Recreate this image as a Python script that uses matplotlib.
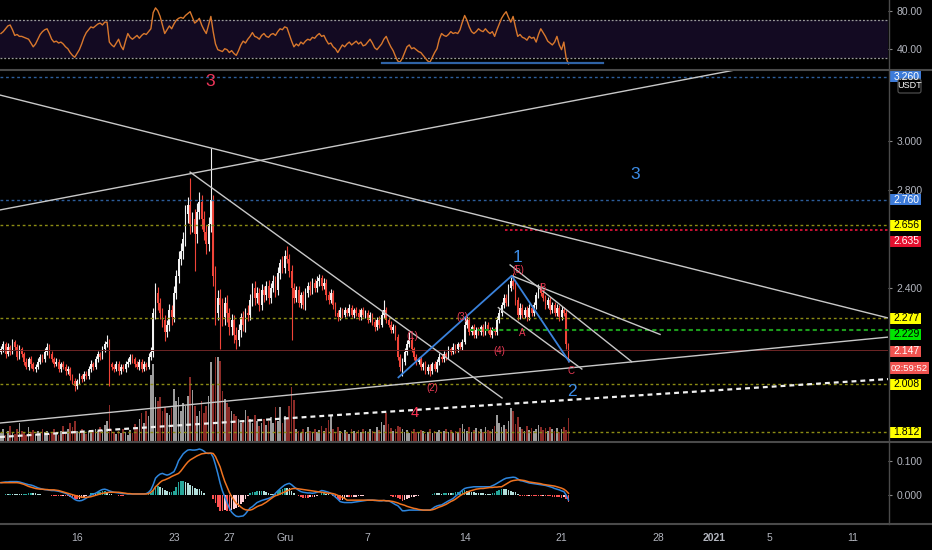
import numpy as np
import pandas as pd
import matplotlib
matplotlib.use('Agg')
import matplotlib.pyplot as plt
from matplotlib.lines import Line2D
from matplotlib.patches import Rectangle, FancyBboxPatch
from matplotlib.transforms import IdentityTransform

plt.rcParams['font.family'] = ['Liberation Sans', 'DejaVu Sans']

# 4h candles, prices in 1/1000 USDT (open = previous close)
first_open = 2140
closes = [2150, 2170, 2130, 2160, 2140, 2180, 2160, 2120, 2150, 2130,
          2100, 2080, 2110, 2090, 2070, 2080, 2100, 2120, 2110, 2140,
          2160, 2130, 2110, 2090, 2100, 2070, 2090, 2080, 2060, 2070,
          2040, 2020, 2000, 2020, 2040, 2030, 2050, 2040, 2070, 2090,
          2080, 2110, 2130, 2120, 2150, 2170, 2180, 2090, 2080, 2070,
          2090, 2060, 2080, 2070, 2090, 2100, 2120, 2110, 2090, 2080,
          2100, 2070, 2090, 2080, 2120, 2140, 2300, 2380, 2340, 2300,
          2270, 2220, 2250, 2310, 2280, 2380, 2450, 2520, 2550, 2600,
          2700, 2740, 2660, 2680, 2620, 2710, 2750, 2680, 2630, 2580,
          2660, 2760, 2450, 2300, 2360, 2330, 2280, 2340, 2300, 2240,
          2270, 2210, 2190, 2230, 2280, 2250, 2300, 2290, 2350, 2400,
          2360, 2380, 2330, 2390, 2370, 2410, 2360, 2400, 2430, 2390,
          2460, 2500, 2480, 2530, 2520, 2470, 2400, 2360, 2390, 2340,
          2370, 2330, 2380, 2410, 2390, 2420, 2400, 2430, 2440, 2410,
          2420, 2370, 2350, 2380, 2330, 2300, 2280, 2310, 2290, 2310,
          2300, 2320, 2290, 2310, 2300, 2280, 2310, 2290, 2300, 2270,
          2290, 2260, 2240, 2270, 2250, 2290, 2310, 2270, 2250, 2230,
          2240, 2200, 2120, 2080, 2100, 2140, 2170, 2190, 2150, 2120,
          2100, 2110, 2080, 2090, 2060, 2080, 2060, 2090, 2070, 2100,
          2120, 2110, 2130, 2120, 2150, 2140, 2160, 2150, 2170, 2160,
          2180, 2250, 2270, 2220, 2240, 2210, 2230, 2220, 2240, 2220,
          2250, 2230, 2210, 2230, 2220, 2270, 2300, 2330, 2360, 2340,
          2400, 2430, 2410, 2350, 2290, 2320, 2290, 2310, 2280, 2320,
          2300, 2330, 2370, 2400, 2380, 2360, 2330, 2350, 2310, 2330,
          2300, 2320, 2280, 2310, 2300, 2170, 2147]
upper_wick = [12, 15, 10, 18, 8, 14, 10, 12, 16, 9, 11, 14, 8, 13, 10, 9, 15, 12, 10, 14,
              18, 10, 12, 9, 14, 11, 8, 13, 10, 12, 9, 11, 14, 10, 12, 8, 13, 10, 12, 15,
              10, 14, 12, 9, 15, 13, 30, 12, 10, 9, 14, 12, 10, 11, 13, 15, 12, 10, 9, 14,
              11, 10, 12, 9, 15, 18, 20, 40, 25, 20, 18, 22, 20, 25, 20, 30, 25, 30, 35, 30,
              40, 30, 110, 30, 40, 35, 40, 30, 35, 25, 30, 210, 20, 40, 30, 35, 30, 25, 30, 20,
              25, 20, 30, 25, 20, 25, 20, 30, 25, 20, 30, 25, 20, 25, 20, 18, 22, 20, 25, 20,
              25, 20, 30, 25, 40, 20, 25, 20, 18, 20, 15, 18, 20, 15, 18, 20, 15, 20, 18, 15,
              20, 15, 18, 15, 12, 15, 12, 14, 10, 12, 10, 14, 12, 10, 12, 14, 10, 12, 10, 12,
              14, 10, 12, 10, 14, 20, 40, 12, 10, 14, 12, 10, 12, 10, 14, 15, 20, 30, 12, 10,
              12, 10, 14, 10, 12, 10, 12, 10, 12, 10, 14, 10, 12, 10, 12, 10, 14, 10, 12, 10,
              12, 30, 15, 12, 10, 14, 10, 12, 10, 12, 14, 10, 12, 10, 12, 15, 14, 12, 15, 14,
              18, 15, 30, 15, 12, 18, 14, 12, 15, 14, 12, 15, 12, 18, 20, 15, 12, 14, 12, 15,
              12, 14, 12, 15, 12, 10, 8]
lower_wick = [10, 12, 15, 8, 12, 10, 14, 12, 9, 11, 15, 10, 12, 14, 10, 12, 9, 11, 13, 10,
              12, 14, 10, 12, 9, 13, 11, 10, 14, 12, 15, 12, 18, 10, 12, 14, 10, 12, 9, 11,
              13, 10, 12, 14, 10, 12, 9, 90, 15, 12, 10, 14, 12, 10, 11, 12, 10, 14, 12, 10,
              12, 14, 10, 12, 10, 15, 20, 25, 30, 25, 30, 35, 20, 25, 30, 20, 25, 30, 25, 30,
              30, 35, 40, 30, 150, 35, 30, 40, 35, 40, 30, 30, 40, 50, 30, 180, 35, 30, 40, 30,
              30, 35, 40, 25, 30, 25, 30, 25, 20, 25, 30, 20, 25, 20, 25, 20, 25, 20, 18, 25,
              20, 25, 20, 18, 20, 25, 210, 20, 15, 18, 20, 15, 18, 15, 20, 15, 18, 15, 20, 18,
              15, 18, 15, 12, 15, 12, 14, 10, 12, 10, 14, 12, 10, 12, 14, 10, 12, 10, 14, 12,
              10, 12, 14, 10, 12, 10, 12, 14, 10, 12, 14, 12, 15, 20, 40, 12, 14, 12, 10, 12,
              14, 10, 12, 14, 12, 10, 20, 12, 10, 14, 12, 10, 12, 14, 10, 12, 10, 14, 12, 10,
              12, 10, 14, 12, 10, 14, 12, 10, 12, 14, 10, 12, 10, 14, 12, 10, 12, 14, 10, 15,
              14, 12, 15, 18, 20, 15, 14, 12, 15, 12, 14, 12, 15, 12, 14, 12, 15, 12, 14, 12,
              14, 12, 15, 12, 14, 20, 47]
volume = [8, 12, 6, 10, 15, 9, 7, 12, 18, 10, 8, 6, 14, 9, 11, 7, 10, 8, 12, 9,
          10, 7, 9, 12, 8, 6, 10, 15, 9, 12, 18, 14, 20, 10, 8, 12, 9, 7, 10, 8,
          9, 12, 10, 14, 11, 16, 20, 36, 12, 9, 7, 10, 8, 12, 9, 6, 11, 8, 17, 14,
          22, 28, 18, 30, 25, 66, 77, 44, 40, 44, 30, 34, 28, 26, 33, 52, 40, 44, 30, 38,
          35, 45, 64, 51, 35, 25, 30, 40, 28, 35, 45, 79, 56, 84, 84, 80, 50, 42, 38, 34,
          30, 27, 25, 22, 18, 20, 31, 25, 22, 18, 26, 20, 15, 18, 22, 16, 20, 24, 18, 34,
          20, 34, 18, 25, 22, 35, 54, 41, 12, 10, 8, 12, 9, 14, 10, 8, 12, 9, 11, 15,
          10, 13, 21, 26, 12, 9, 14, 10, 8, 11, 9, 7, 12, 10, 8, 11, 9, 12, 10, 8,
          12, 10, 9, 14, 11, 19, 16, 28, 17, 13, 10, 12, 15, 14, 12, 9, 11, 8, 10, 12,
          9, 8, 11, 10, 7, 9, 12, 8, 10, 9, 11, 8, 10, 12, 9, 11, 8, 10, 9, 13,
          17, 12, 10, 14, 9, 11, 13, 10, 12, 9, 14, 11, 10, 12, 15, 26, 18, 14, 16, 12,
          20, 33, 30, 17, 24, 14, 12, 10, 15, 11, 13, 10, 12, 16, 14, 11, 13, 10, 14, 12,
          10, 13, 9, 12, 14, 11, 23]
rsi = [56, 58, 61, 64, 65, 60, 54, 55, 53, 53, 52, 51, 50, 46, 42, 45, 50, 55, 58, 60,
       61, 56, 50, 47, 48, 46, 47, 45, 42, 40, 36, 33, 31, 35, 39, 45, 52, 57, 60, 63,
       62, 64, 66, 67, 65, 68, 68, 47, 44, 42, 46, 50, 43, 39, 48, 56, 52, 50, 52, 54,
       51, 54, 56, 55, 58, 61, 78, 83, 80, 74, 65, 56, 60, 64, 61, 66, 70, 72, 73, 72,
       75, 77, 79, 73, 67, 69, 72, 65, 60, 56, 65, 74, 58, 45, 39, 38, 37, 40, 39, 36,
       38, 35, 33, 38, 44, 48, 46, 50, 53, 57, 53, 52, 50, 54, 56, 53, 52, 55, 56, 54,
       58, 61, 60, 63, 62, 55, 48, 42, 45, 43, 47, 45, 48, 50, 49, 52, 51, 54, 56, 53,
       54, 49, 45, 46, 42, 40, 36, 40, 44, 42, 45, 47, 44, 46, 48, 45, 47, 43, 44, 47,
       50, 46, 41, 39, 42, 45, 50, 53, 47, 42, 38, 32, 27, 26, 30, 36, 42, 44, 40, 41,
       39, 37, 36, 33, 30, 27, 26, 31, 36, 40, 50, 56, 54, 53, 55, 58, 56, 57, 56, 60,
       68, 75, 70, 63, 58, 56, 58, 61, 59, 58, 61, 58, 56, 58, 53, 60, 66, 72, 76, 79,
       73, 68, 74, 63, 53, 55, 52, 51, 49, 53, 51, 52, 47, 55, 61, 57, 53, 48, 46, 44,
       47, 53, 44, 39, 47, 30, 24]
# MACD and signal in 1/1000
macd = [36, 37, 38, 38, 39, 39, 39, 39, 38, 36, 34, 32, 30, 29, 27, 24, 21, 19, 17, 16,
        15, 14, 13, 13, 12, 11, 9, 7, 5, 2, -3, -8, -13, -16, -17, -16, -13, -9, -5, 0,
        3, 5, 9, 13, 16, 17, 15, 12, 10, 8, 7, 6, 5, 4, 4, 3, 3, 3, 3, 3,
        3, 3, 3, 4, 8, 15, 30, 49, 56, 61, 63, 60, 58, 60, 64, 68, 82, 100, 110, 120,
        126, 131, 132, 131, 131, 132, 134, 132, 128, 122, 121, 122, 110, 88, 63, 35, 12, -5, -22, -38,
        -50, -57, -62, -63, -62, -61, -55, -46, -38, -34, -28, -22, -19, -16, -14, -12, -10, -7, -3, 5,
        12, 18, 24, 29, 32, 34, 30, 24, 19, 14, 10, 8, 7, 6, 6, 5, 6, 8, 10, 13,
        12, 10, 8, 5, 0, -6, -12, -19, -21, -22, -22, -22, -22, -21, -20, -19, -18, -17, -16, -15,
        -15, -15, -16, -16, -17, -17, -16, -17, -17, -20, -24, -28, -31, -38, -46, -46, -45, -44, -44, -44,
        -44, -44, -44, -44, -44, -44, -44, -40, -35, -32, -30, -29, -25, -21, -17, -14, -10, -4, 2, 8,
        14, 19, 21, 22, 23, 24, 24, 24, 24, 24, 24, 24, 24, 27, 30, 34, 38, 42, 46, 49,
        50, 51, 52, 51, 47, 42, 41, 39, 37, 35, 34, 33, 32, 31, 30, 29, 28, 26, 24, 22,
        19, 17, 15, 12, 10, 0, -15]
signal = [36, 36, 36, 36, 36, 36, 36, 36, 35, 33, 31, 28, 25, 23, 21, 19, 18, 17, 17, 16,
          16, 15, 15, 15, 14, 13, 11, 9, 7, 5, 3, 1, -1, -3, -5, -6, -7, -7, -6, -5,
          -3, -1, 1, 3, 5, 6, 7, 8, 8, 8, 8, 8, 7, 6, 5, 4, 4, 3, 3, 3,
          3, 3, 3, 3, 4, 8, 14, 24, 30, 37, 42, 44, 47, 50, 54, 57, 60, 63, 70, 79,
          88, 96, 102, 106, 110, 114, 117, 120, 121, 122, 122, 122, 121, 112, 97, 82, 60, 40, 24, 8,
          -5, -15, -24, -29, -35, -40, -43, -44, -44, -42, -38, -34, -31, -29, -25, -21, -16, -11, -6, -2,
          0, 3, 6, 9, 12, 15, 18, 19, 19, 18, 17, 16, 15, 14, 13, 12, 11, 10, 9, 8,
          7, 6, 5, 5, 4, 2, -1, -4, -7, -10, -15, -15, -15, -15, -15, -15, -15, -15, -15, -15,
          -15, -15, -15, -16, -16, -16, -16, -17, -17, -18, -19, -21, -23, -26, -28, -30, -33, -35, -37, -39,
          -40, -42, -43, -44, -44, -44, -44, -43, -41, -38, -35, -33, -30, -27, -23, -19, -16, -12, -7, -2,
          2, 5, 8, 11, 13, 15, 17, 18, 19, 19, 20, 21, 22, 22, 23, 23, 24, 24, 28, 32,
          36, 40, 42, 43, 44, 44, 43, 42, 40, 38, 37, 36, 35, 34, 33, 31, 30, 29, 28, 27,
          26, 24, 22, 20, 17, 12, 5]

first_bar = pd.Timestamp('2020-11-10 12:00')
tick_dates = ['2020-11-16', '2020-11-23', '2020-11-27', '2020-12-01', '2020-12-07',
              '2020-12-14', '2020-12-21', '2020-12-28', '2021-01-01', '2021-01-05', '2021-01-11']
tick_labels = ['16', '23', '27', 'Gru', '7', '14', '21', '28', '2021', '5', '11']
price_ticks = [2.4, 2.8, 3.0]

# horizontal levels drawn on the chart
levels = [3.260, 2.760, 2.656, 2.635, 2.277, 2.229, 2.008, 1.812]
level_from = [None, None, None, '2020-12-16 22:00', None, '2020-12-14 10:00', None, None]
level_colors = ['#2d5e9c', '#2d5e9c', '#8c8c14', '#e8143c', '#8c8c14', '#1c9c1c', '#8c8c14', '#8c8c14']

# trend lines: (bar1, price1, bar2, price2)
trend_lines = [(-0.4, 2.718, 320.4, 3.292),
               (-0.4, 3.186, 384.5, 2.278),
               (-0.4, 1.850, 384.5, 2.200),
               (82.0, 2.872, 217.2, 1.952),
               (221.4, 2.450, 285.7, 2.211),
               (220.7, 2.494, 273.4, 2.100),
               (215.6, 2.320, 251.8, 2.070)]
dashed_line = (-0.4, 1.793, 384.5, 2.029)
wave_bars = [172.3, 221.4, 246.3]
wave_prices = [2.036, 2.450, 2.100]
rsi_line = (165.2, 261.0, 24.6)

small_labels = ['(1)', '(2)', '(3)', '(4)', '(5)', 'A', 'B', 'C']
small_bars = [178.1, 187.0, 199.8, 216.1, 224.3, 226.0, 234.7, 247.0]
small_prices = [2.204, 1.991, 2.283, 2.143, 2.473, 2.215, 2.399, 2.062]
big_labels = ['3', '3', '1', '2', '4']
big_bars = [90.7, 274.9, 223.9, 247.6, 179.5]
big_prices = [3.240, 2.864, 2.523, 1.980, 1.892]
big_colors = ['#f0365a', '#3c8ce6', '#3c8ce6', '#3c8ce6', '#ff3355']

tag_prices = [3.260, 2.760, 2.656, 2.635, 2.277, 2.229, 2.147, 2.008, 1.812]
tag_faces = ['#3d7bd9', '#3d7bd9', '#ffff00', '#e3102e', '#ffff00', '#00e600', '#f05350', '#ffff00', '#ffff00']
tag_text = ['white', 'white', 'black', 'white', 'black', 'black', 'white', 'black', 'black']
tag_shift = [0, 0, 0, -11, 0, -4.5, -1, 0, 0]
countdown = '02:59:52'

W, H = 932, 550
BG = 'black'
GREY = '#b2b5be'
fig = plt.figure(figsize=(W / 100, H / 100), dpi=100, facecolor=BG)


def rect(top, bottom, left=0, right=888):
    return [left / W, 1 - bottom / H, (right - left) / W, (bottom - top) / H]


ax_vol = fig.add_axes(rect(70, 441))
ax = fig.add_axes(rect(70, 441), sharex=ax_vol)
ax_rsi = fig.add_axes(rect(0, 68), sharex=ax_vol)
ax_macd = fig.add_axes(rect(443, 523), sharex=ax_vol)

for a in (ax_rsi, ax_vol, ax, ax_macd):
    a.set_facecolor(BG)
    for s in a.spines.values():
        s.set_visible(False)
    a.yaxis.tick_right()
    a.tick_params(axis='y', colors='#888888', labelcolor=GREY, labelsize=7.5, length=3, pad=3)
    a.tick_params(axis='x', length=0, labelbottom=False)
ax.set_facecolor('none')
ax_vol.set_yticks([])

n = len(closes)
idx = np.arange(n)
c = np.array(closes) / 1000
o = np.r_[first_open / 1000, c[:-1]]
hi = np.maximum(o, c) + np.array(upper_wick) / 1000
lo = np.minimum(o, c) - np.array(lower_wick) / 1000
up = c >= o
cols = np.where(up, '#f2f2f2', '#f04438')

# volume
ax_vol.bar(idx, volume, width=0.72, color=np.where(up, '#9c9c9c', '#8b2b27'), linewidth=0)
ax_vol.set_ylim(0, 370)

# candles
ax.vlines(idx, lo, hi, colors=cols, lw=0.8)
ax.bar(idx, np.maximum(np.abs(c - o), 0.003), bottom=np.minimum(o, c), width=0.74,
       color=cols, linewidth=0)
ax.set_xlim(-0.4, 384.5)
ax.set_ylim(1.7768, 3.288)
ax.set_yticks(price_ticks)
ax.yaxis.set_major_formatter(plt.FuncFormatter(lambda v, p: f'{v:.3f}'))


def bar_of(ts):
    return (pd.Timestamp(ts) - first_bar) / pd.Timedelta('4h')


for lv, start, col in zip(levels, level_from, level_colors):
    x0 = -0.4 if start is None else bar_of(start)
    if col == '#1c9c1c':
        ls, lw = (0, (2, 1.5)), 1.5
    elif col == '#e8143c':
        ls, lw = (0, (1.5, 1.5)), 1.2
    else:
        ls, lw = (0, (2, 2)), 1
    ax.plot([x0, 384.5], [lv, lv], color=col, lw=lw, ls=ls)
ax.axhline(c[-1], color='#6e2626', lw=0.7)

for b1, p1, b2, p2 in trend_lines:
    ax.plot([b1, b2], [p1, p2], color='#c8c8c8', lw=1)
ax.plot(dashed_line[::2], dashed_line[1::2], color='#f0f0f0', lw=1.6, ls=(0, (2.2, 1.8)))
ax.plot(wave_bars, wave_prices, color='#3a82dc', lw=1.3)

for s, b, p in zip(small_labels, small_bars, small_prices):
    ax.text(b, p, s, color='#e83a55', fontsize=7, ha='center', va='center')
for s, b, p, col in zip(big_labels, big_bars, big_prices, big_colors):
    ax.text(b, p, s, color=col, fontsize=12.5 if s != '4' else 10.5, ha='center', va='center')

# RSI pane
ax_rsi.axhspan(30, 70, color='#130a22', lw=0)
for v in (70, 30):
    ax_rsi.axhline(v, color='#9a9a9a', lw=0.9, ls=(0, (1.5, 1.5)))
ax_rsi.plot(idx, rsi, color='#d9782d', lw=1)
ax_rsi.plot(rsi_line[:2], [rsi_line[2]] * 2, color='#2f63a6', lw=1.6)
ax_rsi.set_ylim(19.7, 91.3)
ax_rsi.set_yticks([40, 80])
ax_rsi.set_yticklabels(['40.00', '80.00'])

# MACD pane
m = np.array(macd) / 1000
sg = np.array(signal) / 1000
hist = m - sg
prev = np.r_[hist[0], hist[:-1]]
hcol = np.where(hist >= 0, np.where(hist > prev, '#26a69a', '#b2dfdb'),
                np.where(hist > prev, '#ffcdd2', '#ff5252'))
ax_macd.bar(idx, hist, width=0.7, color=hcol, linewidth=0)
ax_macd.plot(idx, m, color='#2e86de', lw=1.1)
ax_macd.plot(idx, sg, color='#ef7320', lw=1.1)
ax_macd.set_ylim(-0.0816, 0.1516)
ax_macd.set_yticks([0, 0.1])
ax_macd.set_yticklabels(['0.000', '0.100'])
ax_macd.set_xticks([bar_of(d) for d in tick_dates])
ax_macd.set_xticklabels(tick_labels)
ax_macd.tick_params(axis='x', labelbottom=True, labelcolor=GREY, labelsize=7.5, pad=7)
for t in ax_macd.get_xticklabels():
    if t.get_text() == '2021':
        t.set_fontweight('bold')

# separators and price-scale border
px = IdentityTransform()
for y in (69.5, 442, 523.5):
    fig.add_artist(Line2D([0, W], [H - y, H - y], transform=px, color='#4a4a4a', lw=1.5))
fig.add_artist(Line2D([888.5, 888.5], [H - 523.5, H], transform=px, color='#4a4a4a', lw=1))

# price tags on the right scale
for p, face, tc, dy in zip(tag_prices, tag_faces, tag_text, tag_shift):
    yd = ax.transData.transform((0, p))[1] + dy
    fig.add_artist(Rectangle((889, yd - 5.5), 32, 11, transform=px, facecolor=face, edgecolor='none'))
    fig.text(893.5, yd, f'{p:.3f}', transform=px, color=tc, fontsize=7.5, ha='left', va='center')
    if p == c[-1]:
        yc = yd - 17
        fig.add_artist(Rectangle((889, yc - 6), 40, 12, transform=px, facecolor=face, edgecolor='none'))
        fig.text(891, yc, countdown, transform=px, color='white', fontsize=6.8, ha='left', va='center')

fig.add_artist(FancyBboxPatch((898, H - 93), 23, 14, boxstyle='round,pad=0,rounding_size=2',
                              transform=px, facecolor=BG, edgecolor='#555555', lw=0.8))
fig.text(909.5, H - 86, 'USDT', transform=px, color='white', fontsize=6.5, ha='center', va='center')

fig.savefig('out.png', dpi=100, facecolor=BG)
